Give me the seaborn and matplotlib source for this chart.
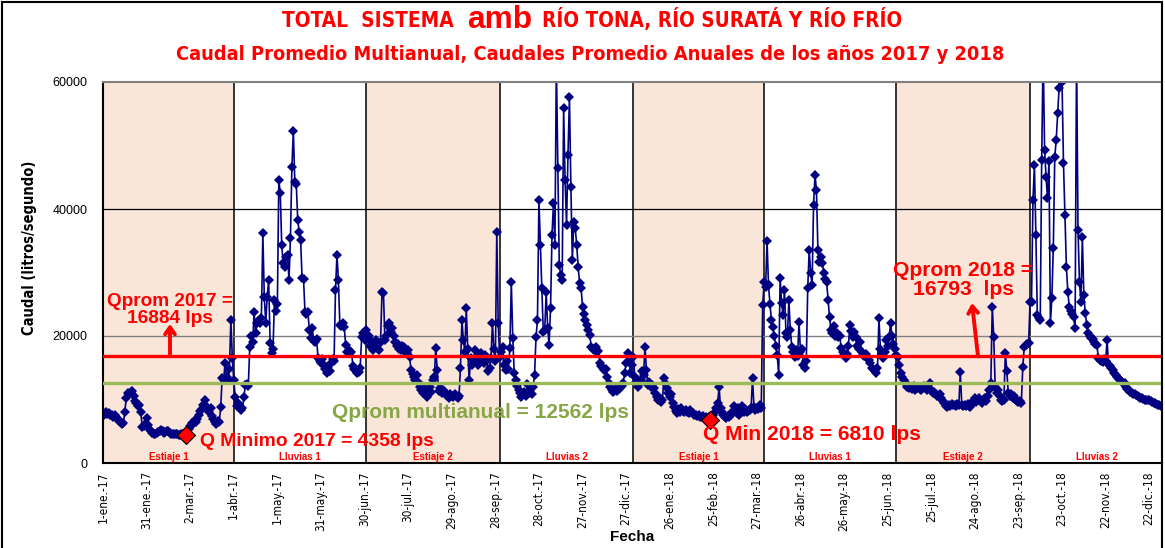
import numpy as np
import pandas as pd
import matplotlib
matplotlib.use("Agg")
import matplotlib.pyplot as plt
import matplotlib.transforms as mtransforms
from matplotlib import font_manager
from matplotlib.patches import Rectangle
import seaborn as sns

# ---------------- DATA ----------------
caudal_2017 = [
    7800, 7600, 8000, 7700, 7900, 7500, 7600, 7300, 7500, 7200,
    6800, 6700, 6500, 6200, 6300, 8000, 10200, 11000, 10800, 11200,
    11400, 10500, 9800, 9400, 8900, 9100, 8000, 5700, 5900, 6200,
    7100, 6000, 5400, 5000, 4800, 4600, 4500, 4700, 4900, 5000,
    5200, 5000, 4800, 4900, 5100, 5000, 4700, 4500, 4500, 4600,
    4600, 4500, 4450, 4400, 4500, 4500, 4450, 4358, 4900, 5300,
    5800, 6300, 6100, 6700, 6400, 7000, 7600, 8200, 8500, 9200,
    9900, 9000, 8400, 8000, 8600, 7400, 6900, 6400, 6200, 6600,
    6400, 8800, 13400, 13000, 15700, 13500, 13000, 14800, 22500, 16500,
    13000, 10400, 9000, 9500, 8800, 8300, 8600, 10400, 12300, 12500,
    12100, 18300, 20000, 19000, 23800, 20500, 22000, 22400, 22000, 22800,
    36200, 26200, 22100, 26200, 28800, 18900, 17300, 18000, 25700, 24000,
    25000, 44600, 42500, 34300, 31500, 30900, 32400, 32800, 28800, 35400,
    46600, 52300, 44300, 44000, 38300, 36400, 35100, 29100, 29000, 23800,
    23500, 23800, 21000, 19700, 21300, 19200, 19000, 19500, 16500, 16000,
    15800, 16300, 15500, 14800, 14200, 15100, 14500, 15800, 16400, 16000,
    27200, 32800, 28800, 21700, 21500, 22000, 21400, 18600, 17500, 17800,
    17300, 17500, 15300, 14800, 14500, 14200, 14400, 15000, 19800, 20500,
    19400, 21000, 19500, 20000, 18500, 19000, 17800, 18500, 19400, 18000,
    17800, 19000, 26900, 26800, 19400, 20000, 21500, 22000, 20600, 21200,
    20000, 19000, 18500, 18800, 18000, 17800, 18500, 18200, 17500, 17300,
    17800, 16700, 14600, 14000, 13500, 13100, 13800, 12800, 12000, 11500,
    11000, 11800, 10800, 10400, 11000, 12000, 11200, 13000, 13500, 18100,
    14600, 11300, 11800, 11000, 11500, 11300, 10800, 10500, 10300, 10800,
    10500, 10400, 10900, 10600, 10300, 10500, 15000, 22500, 19400, 17500,
    24400, 18000, 13000, 16500, 15500, 16000, 17800, 16500, 15500, 16800,
    17300, 16000, 15800, 17000, 16200, 14500, 15000, 16500, 22000, 18000,
    16000, 36400, 22000, 16700, 17500, 18300, 15500, 14600, 16000, 14800,
    18100, 28500, 19700, 14200, 13000, 12200, 11500, 11000, 10400, 10800,
    11200, 10600, 12400, 11000, 11500, 10800, 12000, 13900, 19800, 22500,
    41400, 34300, 27600, 20600, 21000, 26900, 21300, 18600, 24400, 35900,
    40900, 34300, 63000, 46500, 31200, 29600, 28800, 55900, 44600, 37500,
    48500, 57600, 43500, 32000, 38000, 37000, 34300, 30900, 28300, 27600,
    24600, 23500, 22500, 21700, 21000, 20100, 18300, 18000, 17800, 18200,
    17500, 17700, 15700, 15200, 14900, 14600, 14800, 13500, 12600, 12000,
    11500, 11200, 11400, 11800, 11300, 11600, 11800, 12200, 12600, 14200,
    15800, 17300, 16000, 14200, 15500,
]

caudal_2018 = [
    16700, 13500, 12800, 12000, 12500, 13000, 14500, 13800, 18300, 14600,
    12300, 12800, 12000, 12300, 11800, 11000, 10400, 9900, 10200, 9600,
    10000, 13400, 12600, 11800, 11000, 10400, 10800, 9400, 8800, 8200,
    7900, 8500, 8100, 8700, 8200, 8000, 8400, 8100, 7900, 8300,
    8000, 7800, 7600, 7500, 7400, 7600, 7300, 7200, 7400, 7100,
    7300, 7000, 7200, 6810, 7200, 7500, 8000, 8600, 9500, 12000,
    8600, 8000, 7600, 7300, 7100, 7400, 7200, 7600, 8000, 9000,
    8200, 7800, 8600, 7500, 8300, 9000, 8000, 8500, 8100, 8200,
    8300, 8600, 13400, 8800, 8400, 8700, 8500, 9200, 8600, 24900,
    28500, 27700, 35000, 28000, 25000, 22500, 21400, 20000, 18500, 17000,
    13900, 29100, 25200, 23300, 27200, 20500, 19800, 25700, 21000, 18300,
    17500, 16700, 17800, 16800, 22200, 17500, 18000, 15500, 15000, 16000,
    27600, 33500, 30000, 28000, 40600, 45400, 43000, 33500, 31600, 32500,
    31500, 30000, 29000, 28500, 25700, 23000, 21000, 20500, 21500, 20000,
    20500, 19800, 20000, 18100, 17500, 17000, 16500, 17200, 18500, 21700,
    20800, 19800, 20600, 19800, 18500, 18000, 19000, 17500, 17000, 16800,
    17200, 16500, 16200, 15700, 15000, 14800, 14500, 14200, 15000, 22800,
    18000, 17200, 16500, 17500, 19400, 18500, 19800, 22000, 20000, 18800,
    18000, 17000, 16700, 15500, 14200, 13500, 13000, 12600, 12000, 12300,
    11800, 12000, 11700, 12200, 11500, 11800, 12000, 11600, 11500, 11900,
    12200, 11800, 11500, 12000, 12600, 11500, 11000, 11200, 10800, 10600,
    10400, 10800, 10200, 9800, 9500, 9000, 8800, 9200, 9000, 9300,
    9100, 9200, 9000, 9300, 9200, 14300, 9200, 9000, 9100, 8900,
    9300, 9000, 8800, 9300, 9800, 10200, 9600, 10000, 10300, 9700,
    9500, 10100, 10300, 9800, 10500, 11500, 12600, 24600, 19800, 12000,
    11000, 11500, 10600, 10000, 9700, 10000, 17300, 14500, 11000, 10600,
    10800, 10200, 10500, 10000, 9800, 9600, 9700, 9500, 15100, 18300,
    18600, 18800, 18900, 25400, 25400, 41400, 46900, 35900, 23300, 22800,
    22500, 47700, 65000, 49300, 45000, 41700, 47600, 22000, 26000, 33900,
    48200, 50900, 55100, 59100, 65000, 60000, 47200, 39100, 30900, 26900,
    24600, 24000, 23500, 23000, 21300, 65000, 36700, 28500, 25400, 35600,
    26500, 23600, 21700, 20500, 20000, 19700, 19500, 19000, 18800, 18600,
    16500, 16200, 16000, 15900, 16300, 16000, 19400, 15500, 15200, 15000,
    14600, 14200, 13900, 13500, 13200, 13000, 12800, 12600, 12600, 12000,
    11700, 11500, 11200, 11000, 10900, 10800, 10700, 10600, 10400, 10300,
    10200, 10100, 10000, 9900, 10000, 9900, 9800, 9600, 9500, 9400,
    9300, 9200, 9100, 9000, 8900,
]

fecha_inicio = "2017-01-01"
q_prom_2017 = 16884
q_prom_2018 = 16793
q_prom_multianual = 12562
q_min_2017 = 4358
fecha_min_2017 = "2017-02-27"
q_min_2018 = 6810
fecha_min_2018 = "2018-02-23"

periodo_nombres = ["Estiaje 1", "Lluvias 1", "Estiaje 2", "Lluvias 2",
                   "Estiaje 1", "Lluvias 1", "Estiaje 2", "Lluvias 2"]
periodo_limites = ["2017-01-01", "2017-04-01", "2017-07-01", "2017-10-01",
                   "2018-01-01", "2018-04-01", "2018-07-01", "2018-10-01",
                   "2019-01-01"]
meses = ["ene", "feb", "mar", "abr", "may", "jun",
         "jul", "ago", "sep", "oct", "nov", "dic"]
y_ticks = [0, 20000, 40000, 60000]

titulo_a = "TOTAL  SISTEMA"
titulo_b = "amb"
titulo_c = "RÍO TONA, RÍO SURATÁ Y RÍO FRÍO"
subtitulo = "Caudal Promedio Multianual, Caudales Promedio Anuales de los años 2017 y 2018"

# ---------------- STYLE ----------------
sns.set_style("white")
plt.rcParams["font.family"] = ["Liberation Sans", "DejaVu Sans"]
ARIAL = ["Liberation Sans", "DejaVu Sans"]

# pick a condensed family if one is installed
_fonts = font_manager.fontManager.ttflist
_names = {f.name for f in _fonts}
NARROW_KW = dict(family=ARIAL)
if "Liberation Sans Narrow" in _names:
    NARROW_KW = dict(family=["Liberation Sans Narrow", "Liberation Sans", "DejaVu Sans"])
elif "Arial Narrow" in _names:
    NARROW_KW = dict(family=["Arial Narrow", "Liberation Sans", "DejaVu Sans"])
else:
    cond = [f for f in _fonts if "condensed" in str(f.stretch).lower()
            or (isinstance(f.stretch, (int, float)) and f.stretch < 500)]
    cond_names = sorted({f.name for f in cond})
    for pref in ["DejaVu Sans", "Roboto", "Open Sans", "Noto Sans"]:
        if pref in cond_names:
            NARROW_KW = dict(family=[pref], fontstretch="condensed")
            break

RED = "#FF0000"
GREEN_LINE = "#9BBB59"
GREEN_TXT = "#86A744"
NAVY = "#000080"
PEACH = "#F9E6D8"

W, H = 1165, 548
fig = plt.figure(figsize=(W / 100, H / 100), dpi=100)
ax = fig.add_axes([103 / W, 1 - 463 / H, (1162 - 103) / W, (463 - 82) / H])

fechas = pd.date_range(fecha_inicio, periods=len(caudal_2017) + len(caudal_2018), freq="D")
df = pd.DataFrame({"Fecha": fechas, "Caudal": caudal_2017 + caudal_2018})
t0 = pd.Timestamp(fecha_inicio)

# shaded dry periods + boundaries
lims = [pd.Timestamp(x) for x in periodo_limites]
for i, nombre in enumerate(periodo_nombres):
    if nombre.startswith("Estiaje"):
        ax.axvspan(lims[i], lims[i + 1], color=PEACH, zorder=0, lw=0)
for b in lims[1:-1]:
    ax.axvline(b, color="black", lw=1.1, zorder=1)

# grid lines
ax.axhline(20000, color="#808080", lw=1.0, zorder=1)
ax.axhline(40000, color="black", lw=0.9, zorder=1)

# data
sns.lineplot(data=df, x="Fecha", y="Caudal", ax=ax, color=NAVY, lw=1.2,
             marker="D", markersize=4.8, markeredgewidth=0, zorder=2)

# mean lines
ax.plot([t0, lims[4]], [q_prom_2017, q_prom_2017], color=RED, lw=2.4, zorder=3)
ax.plot([lims[4], lims[-1]], [q_prom_2018, q_prom_2018], color=RED, lw=2.4, zorder=3)
ax.axhline(q_prom_multianual, color=GREEN_LINE, lw=2.4, zorder=3)

# minimum markers
for f, q in [(fecha_min_2017, q_min_2017), (fecha_min_2018, q_min_2018)]:
    ax.plot([pd.Timestamp(f)], [q], marker="D", color=RED, markeredgecolor="black",
            markeredgewidth=0.8, markersize=9, zorder=5, ls="none")

ax.set_xlim(t0, t0 + pd.Timedelta(days=728.8))
ax.set_ylim(0, 60000)

# ticks
tick_dates = pd.date_range(t0, periods=25, freq="30D")
tick_labels = [f"{d.day}-{meses[d.month - 1]}.-{d.strftime('%y')}" for d in tick_dates]
ax.set_xticks(tick_dates)
ax.set_xticklabels(tick_labels, rotation=90, fontsize=8.5, **NARROW_KW)
ax.set_yticks(y_ticks)
ax.set_yticklabels([str(v) for v in y_ticks], fontsize=9, family=ARIAL)
ax.tick_params(axis="x", direction="out", length=4, width=1, colors="black", pad=2)
ax.tick_params(axis="y", direction="out", length=3, width=1, colors="black", pad=8)
ax.set_xlabel("")
ax.set_ylabel("")

for s in ["left", "bottom"]:
    ax.spines[s].set_color("black")
    ax.spines[s].set_linewidth(1.5)
for s in ["top", "right"]:
    ax.spines[s].set_color("#808080")
    ax.spines[s].set_linewidth(1.5)

# period labels
trans = mtransforms.blended_transform_factory(ax.transData, ax.transAxes)
for i, nombre in enumerate(periodo_nombres):
    mid = lims[i] + (lims[i + 1] - lims[i]) / 2
    ax.text(mid, 0.016, nombre, transform=trans, ha="center", va="center",
            fontsize=7, fontweight="bold", color=RED, family=ARIAL, zorder=6)


def px2data(xp, yp):
    """reference pixel position -> data coordinates"""
    day = (xp - 103) / (1162 - 103) * 728.8
    return t0 + pd.Timedelta(days=day), (463 - yp) / (463 - 82) * 60000


# annotations
anns = []
x, y = px2data(170, 310)
anns.append((ax.text(x, y, f"Qprom 2017 =\n{q_prom_2017} lps", ha="center", va="center",
                     fontsize=12, fontweight="bold", color=RED, family=ARIAL,
                     linespacing=1.0, zorder=6), 126))
x, y = px2data(200, 442)
anns.append((ax.text(x, y, f"Q Minimo 2017 = {q_min_2017} lps", ha="left", va="center",
                     fontsize=12, fontweight="bold", color=RED, family=ARIAL, zorder=6), 233))
x, y = px2data(332, 412)
anns.append((ax.text(x, y, f"Qprom multianual = {q_prom_multianual} lps", ha="left", va="center",
                     fontsize=12, fontweight="bold", color=GREEN_TXT, family=ARIAL, zorder=6), 295))
x, y = px2data(703, 434)
anns.append((ax.text(x, y, f"Q Min 2018 = {q_min_2018} lps", ha="left", va="center",
                     fontsize=12, fontweight="bold", color=RED, family=ARIAL, zorder=6), 217))
x, y = px2data(963, 280)
anns.append((ax.text(x, y, f"Qprom 2018 =\n{q_prom_2018}  lps", ha="center", va="center",
                     fontsize=12, fontweight="bold", color=RED, family=ARIAL,
                     linespacing=1.0, zorder=6), 140))

# arrows
a0, _ = px2data(170, 0)
_, a1 = px2data(0, 324)
ax.annotate("", xy=(a0, a1), xytext=(a0, q_prom_2017),
            arrowprops=dict(arrowstyle="->,head_length=0.5,head_width=0.35",
                            color=RED, lw=2.8, shrinkA=0, shrinkB=0), zorder=6)
b0, _ = px2data(978, 0)
b1, b2 = px2data(972, 303)
ax.annotate("", xy=(b1, b2), xytext=(b0, q_prom_2018),
            arrowprops=dict(arrowstyle="->,head_length=0.5,head_width=0.35",
                            color=RED, lw=2.8, shrinkA=0, shrinkB=0), zorder=6)


# titles
def fy(yp):
    return 1 - yp / H


ta = fig.text(454 / W, fy(27), titulo_a, ha="right", va="baseline", fontsize=12,
              fontweight="bold", color=RED, **NARROW_KW)
tb = fig.text(500 / W, fy(28), titulo_b, ha="center", va="baseline", fontsize=18,
              fontweight="bold", color=RED, family=ARIAL)
tc = fig.text(542 / W, fy(27), titulo_c, ha="left", va="baseline", fontsize=12,
              fontweight="bold", color=RED, **NARROW_KW)
ts = fig.text(590 / W, fy(60), subtitulo, ha="center", va="baseline", fontsize=12,
              fontweight="bold", color=RED, **NARROW_KW)

fig.text(30 / W, fy(248), "Caudal (litros/segundo)", rotation=90, ha="center", va="center",
         fontsize=10.5, fontweight="bold", color="black", **NARROW_KW)
fig.text(632 / W, fy(537), "Fecha", ha="center", va="center", fontsize=11,
         fontweight="bold", color="black", family=ARIAL)

# fit text widths to the reference widths
fig.canvas.draw()
r = fig.canvas.get_renderer()
for t, wpx in anns + [(ta, 172), (tb, 65), (tc, 360), (ts, 828)]:
    w = t.get_window_extent(r).width
    t.set_fontsize(t.get_fontsize() * wpx / w)

# outer frame
fig.add_artist(Rectangle((2 / W, -0.01), (W - 5) / W, 1 - 2 / H + 0.01, transform=fig.transFigure,
                         fill=False, edgecolor="black", lw=1.5))

fig.savefig("out.png", dpi=100)
